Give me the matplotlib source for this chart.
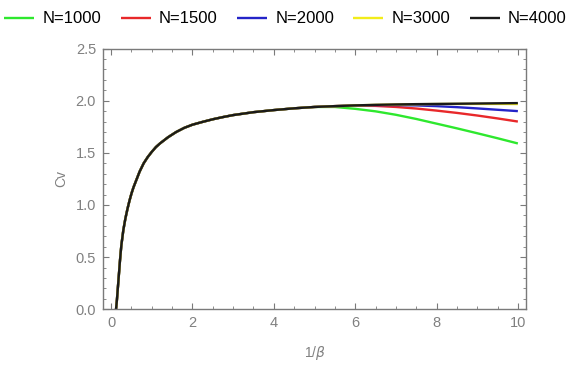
import numpy as np
import matplotlib.pyplot as plt
from matplotlib.ticker import MultipleLocator

plt.rcParams['font.family'] = ['Liberation Sans', 'DejaVu Sans']

# shared low-temperature part of every curve
t_low = [0.12, 0.14, 0.16, 0.18, 0.2, 0.22, 0.25, 0.3, 0.35, 0.4, 0.45,
         0.5, 0.55, 0.6, 0.7, 0.8, 0.9, 1.0, 1.1, 1.2, 1.4, 1.6, 1.8, 2.0,
         2.25, 2.5, 2.75, 3.0, 3.5, 4.0, 4.5]
cv_low = [0.0, 0.08, 0.18, 0.28, 0.38, 0.48, 0.61, 0.76, 0.87, 0.96, 1.04,
          1.11, 1.17, 1.22, 1.32, 1.40, 1.46, 1.51, 1.555, 1.59, 1.65, 1.70,
          1.74, 1.77, 1.797, 1.822, 1.843, 1.862, 1.89, 1.91, 1.927]

# high-temperature tails, one per system size
t_high = [5.0, 5.5, 6.0, 6.5, 7.0, 7.5, 8.0, 8.5, 9.0, 9.5, 10.0]
cv_high = {
    1000: [1.94, 1.94, 1.922, 1.898, 1.865, 1.825, 1.78, 1.735, 1.688, 1.64, 1.59],
    1500: [1.94, 1.948, 1.952, 1.95, 1.94, 1.925, 1.905, 1.883, 1.858, 1.83, 1.80],
    2000: [1.94, 1.948, 1.955, 1.958, 1.958, 1.955, 1.948, 1.938, 1.926, 1.913, 1.90],
    3000: [1.94, 1.948, 1.955, 1.96, 1.963, 1.966, 1.968, 1.969, 1.969, 1.969, 1.968],
    4000: [1.94, 1.948, 1.955, 1.96, 1.964, 1.967, 1.969, 1.971, 1.973, 1.975, 1.977],
}
sizes = [1000, 1500, 2000, 3000, 4000]
colors = ['#2ee82e', '#e8282a', '#2424c8', '#f2ec1a', '#1a1a1a']

fig = plt.figure(figsize=(5.71, 3.65), dpi=100)
ax = fig.add_axes([0.1804, 0.1526, 0.7408, 0.7144])

for n, c in zip(sizes, colors):
    t = np.array(t_low + t_high)
    cv = np.array(cv_low + cv_high[n])
    ax.plot(t, cv, color=c, lw=1.7, label=f'N={n}', solid_capstyle='butt',
            solid_joinstyle='round')

ax.set_xlim(-0.2, 10.2)
ax.set_ylim(0, 2.5)
ax.xaxis.set_major_locator(MultipleLocator(2))
ax.xaxis.set_minor_locator(MultipleLocator(0.5))
ax.yaxis.set_major_locator(MultipleLocator(0.5))
ax.yaxis.set_minor_locator(MultipleLocator(0.1))
ax.yaxis.set_major_formatter(plt.FormatStrFormatter('%.1f'))

gray = '#7a7a7a'
for s in ax.spines.values():
    s.set_color(gray)
    s.set_linewidth(1.0)
ax.tick_params(which='both', direction='in', top=True, right=True,
               color=gray, labelcolor='#808080', labelsize=10.5)
ax.tick_params(which='major', length=4, width=0.8, pad=5)
ax.tick_params(which='minor', length=2, width=0.6)

ax.set_xlabel(r'1/$\beta$', color='#808080', fontsize=10, labelpad=10)
ax.set_ylabel('Cv', color='#808080', fontsize=10, labelpad=5)

fig.legend(loc='upper center', bbox_to_anchor=(0.5, 1.01), ncol=5,
           frameon=False, fontsize=12, handlelength=1.8, handletextpad=0.5,
           columnspacing=1.15)

fig.savefig('out.png', dpi=100)
